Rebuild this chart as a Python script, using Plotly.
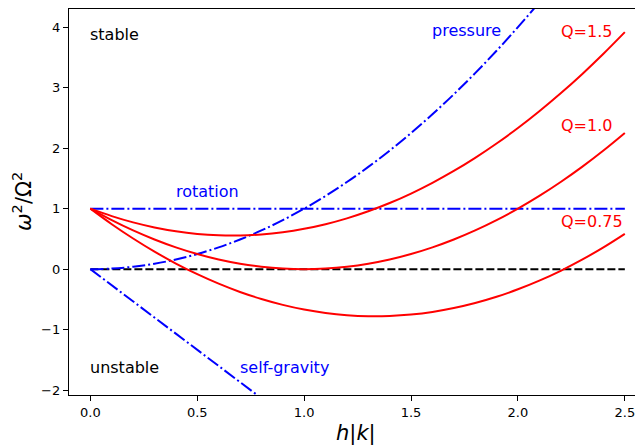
import plotly.graph_objects as go

# sampled h|k| positions
x_vals = [0.0, 0.1, 0.2, 0.3, 0.4, 0.5, 0.6, 0.7, 0.8, 0.9, 1.0, 1.1, 1.2,
          1.3, 1.4, 1.5, 1.6, 1.7, 1.8, 1.9, 2.0, 2.1, 2.2, 2.3, 2.4, 2.5]

q15 = [1.0, 0.877, 0.773, 0.69, 0.627, 0.583, 0.56, 0.557, 0.573, 0.61, 0.667,
       0.743, 0.84, 0.957, 1.093, 1.25, 1.427, 1.623, 1.84, 2.077, 2.333, 2.61,
       2.907, 3.223, 3.56, 3.917]
q10 = [1.0, 0.81, 0.64, 0.49, 0.36, 0.25, 0.16, 0.09, 0.04, 0.01, 0.0, 0.01,
       0.04, 0.09, 0.16, 0.25, 0.36, 0.49, 0.64, 0.81, 1.0, 1.21, 1.44, 1.69,
       1.96, 2.25]
q075 = [1.0, 0.743, 0.507, 0.29, 0.093, -0.083, -0.24, -0.377, -0.493, -0.59,
        -0.667, -0.723, -0.76, -0.777, -0.773, -0.75, -0.707, -0.643, -0.56,
        -0.457, -0.333, -0.19, -0.027, 0.157, 0.36, 0.583]
pressure = [0.0, 0.01, 0.04, 0.09, 0.16, 0.25, 0.36, 0.49, 0.64, 0.81, 1.0,
            1.21, 1.44, 1.69, 1.96, 2.25, 2.56, 2.89, 3.24, 3.61, 4.0, 4.41,
            4.84, 5.29, 5.76, 6.25]
grav_x = [0.0, 0.1, 0.2, 0.3, 0.4, 0.5, 0.6, 0.7, 0.8, 0.9]
self_gravity = [0.0, -0.267, -0.533, -0.8, -1.067, -1.333, -1.6, -1.867,
                -2.133, -2.4]
line_x = [0.0, 2.5]
rotation = [1.0, 1.0]
zero = [0.0, 0.0]

x_ticks = [0.0, 0.5, 1.0, 1.5, 2.0, 2.5]
y_ticks = [-2, -1, 0, 1, 2, 3, 4]

# labels: (text, x, y, color)
labels = [
    ("stable", 0.0, 3.88, "black"),
    ("unstable", 0.0, -1.62, "black"),
    ("pressure", 1.6, 3.94, "blue"),
    ("rotation", 0.4, 1.28, "blue"),
    ("self-gravity", 0.7, -1.62, "blue"),
    ("Q=1.5", 2.2, 3.93, "red"),
    ("Q=1.0", 2.2, 2.38, "red"),
    ("Q=0.75", 2.2, 0.78, "red"),
]

FONT = "DejaVu Sans"
DASHDOT = "13px,3px,2px,3px"

fig = go.Figure()
fig.add_trace(go.Scatter(x=line_x, y=zero, mode="lines",
                         line=dict(color="black", width=2, dash="8px,3px")))
fig.add_trace(go.Scatter(x=line_x, y=rotation, mode="lines",
                         line=dict(color="blue", width=2, dash=DASHDOT)))
fig.add_trace(go.Scatter(x=x_vals, y=pressure, mode="lines", line_shape="spline",
                         line=dict(color="blue", width=2, dash=DASHDOT)))
fig.add_trace(go.Scatter(x=grav_x, y=self_gravity, mode="lines",
                         line=dict(color="blue", width=2, dash=DASHDOT)))
for ys in (q15, q10, q075):
    fig.add_trace(go.Scatter(x=x_vals, y=ys, mode="lines", line_shape="spline",
                             line=dict(color="red", width=2)))

for text, lx, ly, col in labels:
    fig.add_annotation(x=lx, y=ly, text=text, showarrow=False, xanchor="left",
                       yanchor="middle", xshift=-2,
                       font=dict(family=FONT, size=16, color=col))

fig.add_annotation(xref="paper", yref="paper", x=0.5, y=0, yanchor="top", yshift=-24,
                   text="<i>h</i>|<i>k</i>|", showarrow=False,
                   font=dict(family=FONT, size=21, color="black"))
fig.add_annotation(xref="paper", yref="paper", x=0, y=0.5, xanchor="center",
                   xshift=-47, textangle=-90,
                   text="<i>ω</i><sup>2</sup>/Ω<sup>2</sup>", showarrow=False,
                   font=dict(family=FONT, size=21, color="black"))

# the page body adds an 8px offset, so the figure is drawn 8px smaller
fig.update_layout(
    width=635, height=437,
    margin=dict(l=61, r=0, t=1, b=50),
    paper_bgcolor="white", plot_bgcolor="white",
    showlegend=False,
    font=dict(family=FONT, size=13, color="black"),
)
fig.update_xaxes(range=[-0.1, 2.585], tickvals=x_ticks, tickformat=".1f",
                 showgrid=False, zeroline=False, showline=True, linecolor="black",
                 linewidth=1.3, mirror=True, ticks="outside", ticklen=5,
                 tickcolor="black", tickfont=dict(family=FONT, size=13))
fig.update_yaxes(range=[-2.08, 4.3], tickvals=y_ticks,
                 showgrid=False, zeroline=False, showline=True, linecolor="black",
                 linewidth=1.3, ticks="outside", ticklen=5, tickcolor="black",
                 tickfont=dict(family=FONT, size=13))

fig.write_html("out.html")
